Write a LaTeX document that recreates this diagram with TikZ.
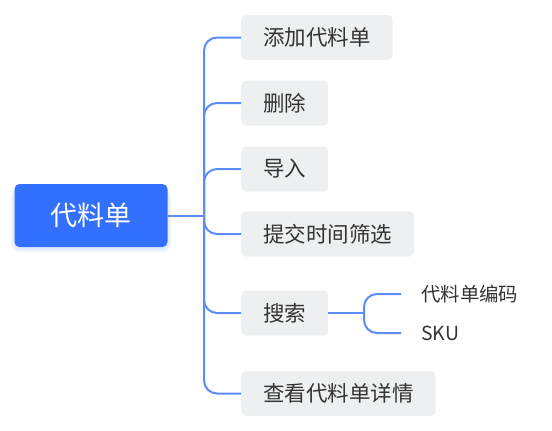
\documentclass[tikz,border=0pt]{standalone}
\usepackage{fontspec}
\setmainfont{Noto Sans CJK SC}
\definecolor{map-root}{HTML}{3370FF}
\definecolor{map-link}{HTML}{5B8CF8}
\definecolor{map-box}{HTML}{EEEFF1}
\definecolor{map-ink}{HTML}{333333}

\begin{document}
\begin{tikzpicture}[
    x=1pt, y=1pt,
    root/.style={fill=map-root, text=white, rounded corners=5pt, minimum width=153pt, minimum height=63pt, font=\fontsize{27}{31}\selectfont},
    topic/.style={fill=map-box, text=map-ink, rounded corners=5pt, anchor=west, minimum height=45pt, inner xsep=22pt, font=\fontsize{21.5}{25}\selectfont},
    leaf/.style={text=map-ink, anchor=west, inner xsep=20pt, font=\fontsize{19.4}{23}\selectfont},
    link/.style={draw=map-link, line width=2pt, rounded corners=13pt}
]
\useasboundingbox (0,0) rectangle (552,-431);

% soft shadow under the root
\begin{scope}[fill=map-root, opacity=0.05]
    \foreach \d in {1,2.5,4} {
        \fill[rounded corners=5pt+\d pt] (14.5-\d,-184-1.5-\d) rectangle (167.5+\d,-247-1.5+\d*-1);
    }
\end{scope}

\node[root] (root) at (91,-215.5) {代料单};

\foreach \nm/\y/\txt in {add/37.5/添加代料单, del/103/删除, imp/169/导入, filt/234/提交时间筛选, find/313/搜索, view/393.5/查看代料单详情} {
    \node[topic] (\nm) at (241,-\y) {\txt};
}

\node[leaf] (code) at (401,-294) {代料单编码};
\node[leaf] (sku) at (401,-333) {SKU};

% trunk from the root
\coordinate (hub) at (204,-215.5);
\draw[link] (root.east) -- (hub);
\foreach \nm in {add,del,imp,filt,find,view} {
    \draw[link] (hub) |- (\nm.west);
}

% search fields
\coordinate (subhub) at (364,-313);
\draw[link] (find.east) -- (subhub);
\draw[link] (subhub) |- (code.west);
\draw[link] (subhub) |- (sku.west);
\end{tikzpicture}
\end{document}
